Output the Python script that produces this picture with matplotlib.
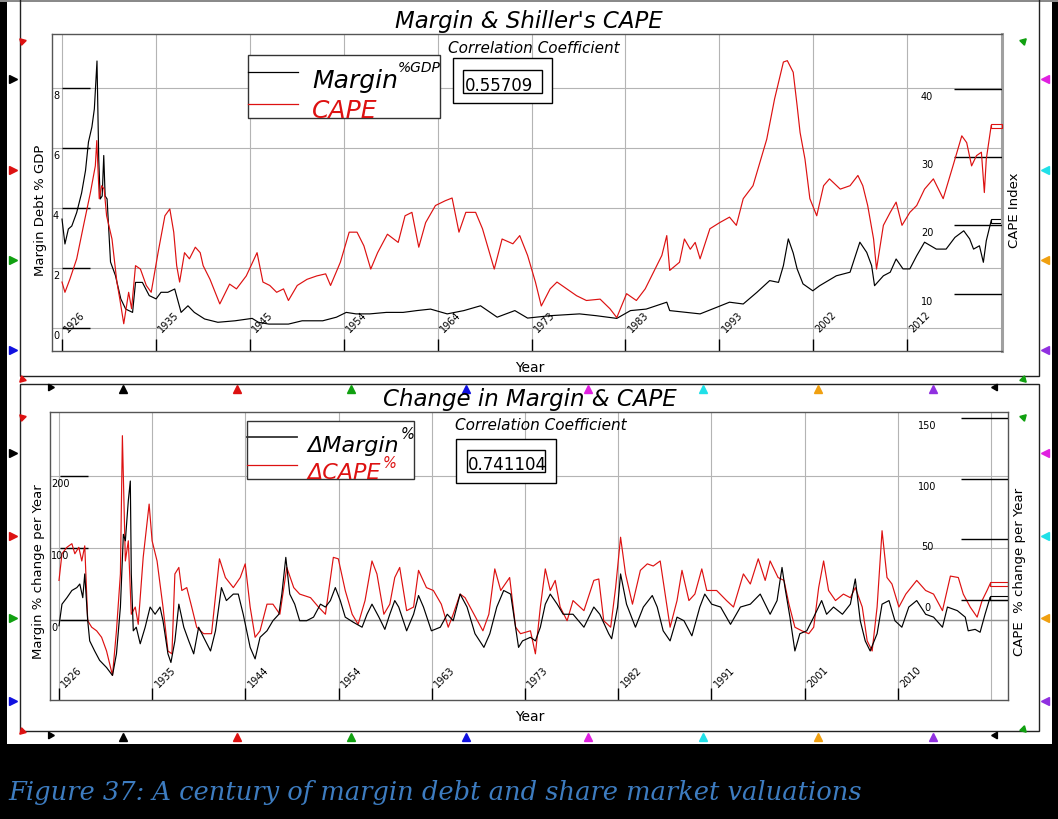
import numpy as np
import matplotlib
matplotlib.use("Agg")
import matplotlib.pyplot as plt
from matplotlib.patches import Rectangle
from matplotlib import transforms as mtrans

W, H = 1058, 820
plt.rcParams['font.family'] = ['DejaVu Sans']

# ---- values ----
# top panel: margin debt as % of GDP (left scale), Shiller CAPE (right scale)
margin_year = [1926.0, 1926.3, 1926.65, 1927.0, 1927.5, 1928.0, 1928.4, 1928.7, 1929.05, 1929.3,
               1929.57, 1929.75, 1929.9, 1930.1, 1930.26, 1930.4, 1930.6, 1930.95, 1931.45, 1932.0,
               1932.5, 1933.2, 1933.5, 1934.2, 1934.9, 1935.6, 1936.1, 1936.8, 1937.5, 1938.15,
               1938.85, 1939.5, 1940.55, 1941.9, 1943.65, 1945.4, 1946.05, 1947.1, 1949.1, 1950.5,
               1952.6, 1954.0, 1955.0, 1956.0, 1957.4, 1959.1, 1960.8, 1962.2, 1963.6, 1965.3,
               1967.0, 1968.7, 1970.4, 1972.2, 1973.5, 1975.8, 1978.8, 1980.5, 1982.6, 1984.0,
               1985.6, 1987.7, 1988.0, 1989.7, 1991.1, 1992.8, 1994.1, 1995.5, 1996.9, 1998.2,
               1999.1, 1999.6, 2000.1, 2000.6, 2001.0, 2001.6, 2002.6, 2003.3, 2005.0, 2006.4,
               2007.4, 2008.1, 2008.6, 2008.9, 2009.8, 2010.5, 2011.1, 2011.8, 2012.5, 2013.2,
               2014.0, 2015.2, 2016.2, 2017.1, 2018.0, 2018.6, 2019.0, 2019.6, 2020.0, 2020.3,
               2020.8]
margin_gdp = [3.63, 2.8, 3.3, 3.4, 3.85, 4.5, 5.25, 6.2, 6.7, 7.3,
              8.9, 5.6, 4.3, 4.4, 5.75, 4.4, 4.3, 2.2, 1.75, 0.97,
              0.63, 0.52, 1.52, 1.52, 1.08, 0.97, 1.19, 1.19, 1.3, 0.52,
              0.74, 0.52, 0.3, 0.19, 0.24, 0.32, 0.19, 0.13, 0.13, 0.24,
              0.24, 0.36, 0.52, 0.47, 0.47, 0.52, 0.52, 0.58, 0.63, 0.47,
              0.58, 0.74, 0.36, 0.58, 0.33, 0.41, 0.47, 0.41, 0.32, 0.58,
              0.63, 0.86, 0.58, 0.52, 0.47, 0.69, 0.86, 0.8, 1.19, 1.58,
              1.52, 2.08, 2.97, 2.5, 1.97, 1.47, 1.24, 1.41, 1.74, 1.86,
              2.86, 2.52, 2.08, 1.41, 1.74, 1.86, 2.3, 1.97, 1.97, 2.41,
              2.86, 2.63, 2.63, 3.02, 3.24, 2.97, 2.63, 2.74, 2.19, 2.91,
              3.58]
cape_year = [1926.0, 1926.3, 1926.8, 1927.5, 1928.2, 1928.9, 1929.4, 1929.55, 1929.8, 1930.05,
             1930.3, 1930.55, 1931.1, 1931.6, 1931.9, 1932.3, 1932.8, 1933.1, 1933.5, 1934.0,
             1934.6, 1935.1, 1935.8, 1936.5, 1937.0, 1937.4, 1937.7, 1938.0, 1938.5, 1939.0,
             1939.6, 1940.1, 1940.4, 1941.1, 1942.1, 1943.1, 1943.8, 1944.8, 1945.9, 1946.5,
             1947.2, 1947.9, 1948.6, 1949.1, 1950.0, 1951.0, 1952.0, 1952.9, 1953.4, 1954.4,
             1955.3, 1956.1, 1956.8, 1957.5, 1958.2, 1959.2, 1960.3, 1961.0, 1961.7, 1962.4,
             1963.1, 1964.1, 1965.1, 1965.8, 1966.5, 1967.2, 1968.2, 1968.9, 1970.1, 1970.9,
             1972.0, 1972.7, 1973.5, 1974.3, 1974.9, 1975.8, 1976.5, 1977.5, 1978.5, 1979.5,
             1980.9, 1981.9, 1982.6, 1983.6, 1984.6, 1985.5, 1986.5, 1987.2, 1987.7, 1988.0,
             1989.0, 1989.5, 1990.1, 1990.6, 1991.1, 1992.1, 1993.1, 1994.1, 1994.8, 1995.5,
             1996.5, 1997.2, 1997.9, 1998.7, 1999.6, 2000.0, 2000.6, 2001.0, 2001.3, 2001.8,
             2002.3, 2003.0, 2003.7, 2004.3, 2005.4, 2006.4, 2007.2, 2007.7, 2008.2, 2008.8,
             2009.1, 2009.8, 2010.5, 2011.1, 2011.7, 2012.5, 2013.2, 2014.0, 2014.9, 2015.9,
             2016.9, 2017.8, 2018.3, 2018.8, 2019.3, 2019.8, 2020.1, 2020.3, 2020.8]
cape = [11.7, 10.2, 12.1, 15.1, 20.0, 24.8, 28.7, 32.4, 23.9, 25.8,
        25.3, 21.4, 18.0, 11.7, 9.2, 5.6, 10.2, 7.8, 14.1, 13.6,
        11.2, 10.2, 16.0, 21.4, 22.4, 19.0, 14.1, 11.7, 16.0, 15.1,
        16.8, 16.0, 14.1, 12.1, 8.5, 11.4, 10.7, 12.6, 16.0, 11.7,
        11.2, 10.2, 10.7, 9.0, 11.2, 12.1, 12.6, 12.9, 11.2, 14.6,
        19.0, 19.0, 17.0, 13.6, 16.0, 18.7, 17.5, 21.4, 21.9, 16.8,
        20.4, 22.9, 23.6, 24.0, 19.0, 21.9, 21.9, 19.5, 13.6, 18.0,
        17.3, 18.5, 15.6, 11.7, 8.2, 10.7, 11.7, 10.7, 9.7, 9.0,
        9.2, 7.8, 6.5, 10.0, 9.0, 10.7, 13.6, 15.6, 18.5, 13.4,
        14.6, 18.0, 16.5, 17.5, 15.1, 19.5, 20.4, 21.2, 20.0, 23.9,
        25.8, 29.2, 32.6, 38.5, 43.9, 44.1, 42.4, 37.5, 33.6, 29.7,
        23.9, 21.4, 25.8, 26.8, 25.3, 25.8, 27.3, 25.8, 22.9, 18.0,
        13.6, 20.0, 21.9, 23.4, 20.0, 21.9, 22.9, 25.3, 26.8, 23.9,
        28.7, 33.1, 32.1, 28.7, 30.2, 30.7, 24.8, 29.7, 34.6]

# bottom panel: % change per year
dmargin_year = [1926.0, 1926.3, 1926.8, 1927.3, 1927.8, 1928.1, 1928.4, 1928.6, 1928.9, 1929.1,
                1929.6, 1930.1, 1930.8, 1931.4, 1931.8, 1932.2, 1932.5, 1932.7, 1933.0, 1933.2,
                1933.3, 1933.5, 1933.8, 1934.2, 1934.7, 1935.2, 1935.7, 1936.2, 1936.5, 1937.0,
                1937.3, 1937.7, 1938.1, 1938.6, 1939.1, 1939.6, 1940.1, 1940.6, 1941.3, 1941.8,
                1942.4, 1942.9, 1943.6, 1944.1, 1944.6, 1945.3, 1945.8, 1946.3, 1947.0, 1947.6,
                1948.2, 1948.5, 1948.9, 1949.3, 1949.8, 1950.3, 1951.0, 1951.7, 1952.4, 1952.9,
                1953.4, 1953.9, 1954.4, 1954.9, 1955.7, 1956.6, 1957.1, 1957.6, 1958.3, 1958.9,
                1959.4, 1959.9, 1960.3, 1961.1, 1961.8, 1962.3, 1962.8, 1963.6, 1964.5, 1965.2,
                1965.8, 1966.5, 1967.2, 1968.0, 1968.9, 1969.5, 1970.2, 1970.9, 1971.6, 1972.4,
                1972.8, 1973.6, 1974.1, 1974.6, 1975.1, 1975.6, 1976.3, 1976.9, 1977.9, 1979.0,
                1980.0, 1980.6, 1981.5, 1981.8, 1982.4, 1982.7, 1983.3, 1984.2, 1985.0, 1985.9,
                1986.4, 1987.0, 1987.7, 1988.4, 1989.1, 1989.9, 1990.7, 1991.2, 1991.9, 1992.8,
                1993.8, 1994.8, 1995.8, 1996.8, 1997.8, 1998.5, 1999.0, 1999.3, 1999.8, 2000.3,
                2000.8, 2001.5, 2002.2, 2003.0, 2003.5, 2004.2, 2005.1, 2005.9, 2006.4, 2006.9,
                2007.4, 2007.9, 2008.6, 2009.1, 2009.8, 2010.4, 2011.1, 2011.8, 2012.6, 2013.5,
                2014.3, 2015.2, 2015.7, 2016.7, 2017.5, 2017.8, 2018.5, 2019.0, 2019.5, 2020.0]
dmargin = [-8, 22, 31, 41, 45, 50, 31, 64, -1, -29,
           -43, -56, -66, -77, -47, 18, 119, 110, 166, 193,
           64, -15, -10, -33, -10, 18, 8, 18, -1, -47,
           -59, -29, 22, -10, -29, -47, -10, -24, -43, -15,
           45, 27, 36, 36, 8, -38, -54, -24, -15, -1,
           8, 36, 87, 36, 22, -1, -1, 4, 22, 18,
           27, 45, 27, 4, -3, -10, 8, 22, 4, -13,
           8, 27, 18, -15, 8, 34, 18, -15, -10, 8,
           -1, 36, 18, -19, -38, -19, 18, 41, 36, -38,
           -29, -24, -29, -10, 22, 36, 22, 8, 8, -10,
           18, 8, -19, -26, 18, 64, 22, -10, 18, 34,
           18, -15, -29, 4, -1, -22, 18, 36, 22, 18,
           -6, 18, 22, 36, 8, 27, 73, 45, 4, -43,
           -19, -15, 4, 27, 8, 18, 8, 22, 57, -1,
           -29, -43, -19, 22, 27, -1, -10, 18, 27, 8,
           4, -10, 18, 13, 4, -15, -13, -17, 8, 31]
dcape_year = [1926.0, 1926.3, 1926.8, 1927.3, 1927.6, 1928.0, 1928.3, 1928.6, 1928.9, 1929.3,
              1929.8, 1930.3, 1930.8, 1931.4, 1931.8, 1932.2, 1932.4, 1932.7, 1933.0, 1933.3,
              1933.7, 1934.0, 1934.5, 1935.1, 1935.4, 1935.9, 1936.5, 1937.0, 1937.4, 1937.7,
              1938.1, 1938.4, 1938.9, 1939.4, 1939.9, 1940.6, 1941.4, 1942.2, 1942.8, 1943.6,
              1944.3, 1944.8, 1945.3, 1945.8, 1946.3, 1947.0, 1947.6, 1948.3, 1949.0, 1949.7,
              1950.3, 1951.4, 1952.2, 1952.9, 1953.7, 1954.2, 1954.9, 1955.6, 1956.2, 1956.9,
              1957.6, 1958.1, 1958.8, 1959.4, 1959.9, 1960.4, 1961.1, 1961.8, 1962.3, 1963.1,
              1963.8, 1964.6, 1965.3, 1965.8, 1966.5, 1967.0, 1967.9, 1968.8, 1969.4, 1970.0,
              1970.6, 1971.5, 1972.1, 1972.6, 1973.6, 1974.1, 1974.6, 1975.1, 1975.6, 1976.1,
              1976.6, 1977.3, 1977.9, 1979.0, 1980.0, 1980.5, 1981.0, 1981.7, 1982.2, 1982.7,
              1983.2, 1983.9, 1984.7, 1985.4, 1986.0, 1986.7, 1987.2, 1987.7, 1988.4, 1988.9,
              1989.6, 1990.2, 1990.9, 1991.4, 1992.4, 1993.4, 1994.1, 1995.1, 1995.8, 1996.6,
              1997.3, 1997.8, 1998.6, 1999.2, 1999.7, 2000.3, 2001.0, 2001.7, 2002.2, 2002.7,
              2003.2, 2003.7, 2004.4, 2005.2, 2005.9, 2006.4, 2007.1, 2007.6, 2008.1, 2008.6,
              2009.1, 2009.6, 2010.1, 2010.8, 2011.5, 2012.6, 2013.5, 2014.3, 2015.2, 2016.0,
              2016.8, 2017.3, 2018.0, 2018.7, 2019.2, 2019.7, 2020.0]
dcape = [55, 92, 101, 106, 92, 101, 82, 103, -1, -10,
         -15, -24, -43, -77, -15, 64, 256, 82, 110, 8,
         18, -6, 87, 161, 110, 82, 18, -43, -47, 64,
         73, 41, 45, 18, -10, -19, -19, 85, 59, 45,
         59, 78, 18, -24, -15, 22, 22, 8, 73, 45,
         36, 31, 18, 8, 87, 85, 41, 8, -6, 27,
         82, 64, 8, 22, 59, 73, 13, 18, 69, 45,
         41, 22, -10, 8, 36, 31, 8, -15, 8, 71,
         41, 59, -10, -19, -15, -47, 18, 71, 41, 55,
         18, -1, 27, 13, 55, 57, -1, -10, 45, 115,
         64, 22, 69, 78, 75, 82, 36, -10, 27, 69,
         27, 36, 71, 41, 41, 27, 18, 64, 50, 85,
         55, 82, 59, 55, 22, -10, -15, -19, -10, 45,
         82, 41, 27, 36, 31, 45, 18, -29, -43, 18,
         124, 59, 50, 18, 36, 55, 41, 36, 13, 61,
         59, 36, 18, 4, 27, 41, 50]

top_year_labels = ["1926", "1935", "1945", "1954", "1964", "1973", "1983", "1993", "2002", "2012"]
bot_year_labels = ["1926", "1935", "1944", "1954", "1963", "1973", "1982", "1991", "2001", "2010"]
top_left_ticks = [0, 2, 4, 6, 8]
top_right_ticks = [10, 20, 30, 40]
bot_left_ticks = [0, 100, 200]
bot_right_ticks = [0, 50, 100, 150]
corr_top = "0.55709"
corr_bot = "0.741104"

RED = "#dd1111"
GRID = "#b4b4b4"
PT = 0.72  # points per pixel at dpi 100

fig = plt.figure(figsize=(W / 100, H / 100), dpi=100, facecolor="black")


def px_axes(x0, y0, x1, y1, z):
    return fig.add_axes([x0 / W, 1 - y1 / H, (x1 - x0) / W, (y1 - y0) / H], zorder=z)


def px_canvas(z):
    a = px_axes(0, 0, W, H, z)
    a.set_xlim(0, W)
    a.set_ylim(H, 0)
    a.axis("off")
    return a


# white sheet + panel frames
bg = px_canvas(0)
bg.add_patch(Rectangle((7, 3), 1045, 742, fc="white", ec="none"))
bg.add_patch(Rectangle((0, 0), W, 3, fc="#8a8a8a", ec="none"))
bg.add_patch(Rectangle((20, -2), 1019, 379, fill=False, ec="#222222", lw=1))
bg.add_patch(Rectangle((20, 385), 1019, 347, fill=False, ec="#222222", lw=1))


def dress(ax, axr, xticks, xlabels, lticks, rticks, w, h, xlab_up, rseg, rlab):
    for s in ax.spines.values():
        s.set_color("#555555")
        s.set_linewidth(1)
    for s in axr.spines.values():
        s.set_visible(False)
    ax.set_xticks([])
    ax.set_yticks([])
    axr.set_yticks([])
    for x in xticks:
        ax.axvline(x, color=GRID, lw=0.8, zorder=0)
    for v in lticks:
        ax.axhline(v, color=GRID, lw=0.8, zorder=0)
    tx = mtrans.blended_transform_factory(ax.transData, ax.transAxes)
    ax.vlines(xticks[:len(xlabels)], 0, 12 / h, transform=tx, color="black", lw=1)
    for x, lab in zip(xticks, xlabels):
        ax.annotate(lab, (x, xlab_up / h), xycoords=tx, xytext=(13 * PT, 0),
                    textcoords="offset points", rotation=45, ha="center", va="center", fontsize=7)
    tl = mtrans.blended_transform_factory(ax.transAxes, ax.transData)
    ax.hlines(lticks, 10 / w, 38 / w, transform=tl, color="black", lw=1)
    for v in lticks:
        ax.annotate(str(v), (1 / w, v), xycoords=tl, xytext=(0, -7 * PT),
                    textcoords="offset points", ha="left", va="center", fontsize=7)
    tr = mtrans.blended_transform_factory(axr.transAxes, axr.transData)
    axr.hlines(rticks, rseg / w, 1, transform=tr, color="black", lw=1)
    for v in rticks:
        axr.annotate(str(v), (rlab / w, v), xycoords=tr, xytext=(0, -7 * PT),
                     textcoords="offset points", ha="center", va="center", fontsize=7)


def end_mark(a, xs, ys, color, hpx):
    lo, hi = a.get_ylim()
    ypp = (hi - lo) / hpx
    x1 = a.get_xlim()[1]
    a.add_patch(Rectangle((xs[-1], ys[-1] - 2 * ypp), x1 - xs[-1], 4 * ypp,
                          fill=False, ec=color, lw=0.8, clip_on=False))


# ---- top panel ----
dt_top = 9.58 / 93.9
top_ticks = 1926 + np.arange(10) * 9.58
ax = px_axes(52, 35, 1002, 352, 2)
ax.patch.set_visible(False)
ax.set_xlim(1926 - 10 * dt_top, 1926 + 940 * dt_top)
ax.set_ylim(-0.767, 9.8)
axr = ax.twinx()
axr.set_zorder(3)
axr.set_ylim(1.61, 48.0)
dress(ax, axr, top_ticks, top_year_labels, top_left_ticks, top_right_ticks,
      950, 317, 30, 902, 875)
ax.spines["right"].set_color("#a0a0a0")
ax.spines["right"].set_linewidth(2.2)
ax.plot(margin_year, margin_gdp, color="black", lw=0.85)
axr.plot(cape_year, cape, color=RED, lw=0.85)
end_mark(ax, margin_year, margin_gdp, "black", 317)
end_mark(axr, cape_year, cape, RED, 317)

# ---- bottom panel ----
dt_bot = 9.41 / 93.2
bot_ticks = 1926 + np.arange(11) * 9.41
bx = px_axes(50, 413, 1008, 701, 2)
bx.patch.set_visible(False)
bx.set_xlim(1926 - 9 * dt_bot, 1926 + 949 * dt_bot)
bx.set_ylim(-111.1, 288.9)
bxr = bx.twinx()
bxr.set_zorder(3)
bxr.set_ylim(-82.4, 155.0)
dress(bx, bxr, bot_ticks, bot_year_labels, bot_left_ticks, bot_right_ticks,
      958, 288, 24, 911, 877)
bx.axhline(0, color="#909090", lw=1.0, zorder=0)
bx.plot(dmargin_year, dmargin, color="black", lw=0.85, zorder=3)
bx.plot(dcape_year, dcape, color=RED, lw=0.85, zorder=2)
end_mark(bx, dmargin_year, dmargin, "black", 288)
end_mark(bx, dcape_year, dcape, RED, 288)

# ---- overlay: titles, legends, boxes, labels ----
ov = px_canvas(10)
it = dict(style="italic")
ov.text(529, 28, "Margin & Shiller's CAPE", ha="center", va="baseline", fontsize=16.5, **it)
ov.text(530, 406, "Change in Margin & CAPE", ha="center", va="baseline", fontsize=16.5, **it)

ov.add_patch(Rectangle((248, 56), 192, 63, fc="white", ec="#333333", lw=1))
ov.plot([248, 298], [73, 73], color="black", lw=0.9)
ov.plot([248, 298], [105, 105], color=RED, lw=0.9)
ov.text(312, 88, "Margin", fontsize=18, va="baseline", **it)
ov.text(398, 72, "%GDP", fontsize=10, va="baseline", **it)
ov.text(312, 118, "CAPE", fontsize=18, va="baseline", color=RED, **it)

ov.add_patch(Rectangle((247, 422), 167, 58, fc="white", ec="#333333", lw=1))
ov.plot([247, 297], [438, 438], color="#333333", lw=1.3)
ov.plot([247, 297], [466, 466], color=RED, lw=0.9)
ov.text(307, 452, "\u0394Margin", fontsize=16, va="baseline", **it)
ov.text(401, 439, "%", fontsize=10.5, va="baseline", **it)
ov.text(307, 479, "\u0394CAPE", fontsize=16, va="baseline", color=RED, **it)
ov.text(383, 468, "%", fontsize=10.5, va="baseline", color=RED, **it)

ov.text(448, 53, "Correlation Coefficient", fontsize=11, va="baseline", **it)
ov.add_patch(Rectangle((453, 59), 99, 45, fc="white", ec="black", lw=1))
ov.add_patch(Rectangle((463, 71), 79, 23, fill=False, ec="black", lw=1))
ov.text(465, 91, corr_top, fontsize=12, va="baseline")

ov.text(455, 430, "Correlation Coefficient", fontsize=11, va="baseline", **it)
ov.add_patch(Rectangle((456, 440), 100, 44, fc="white", ec="black", lw=1))
inner = Rectangle((467, 451), 78, 22, fill=False, ec="black", lw=1)
ov.add_patch(inner)
t = ov.text(468, 470, corr_bot, fontsize=12, va="baseline")
t.set_clip_path(inner)

ov.text(530, 368, "Year", ha="center", va="center", fontsize=10)
ov.text(530, 717, "Year", ha="center", va="center", fontsize=10)
ov.text(41, 210, "Margin Debt % GDP", rotation=90, ha="center", va="center", fontsize=9.5)
ov.text(1014, 210, "CAPE Index", rotation=90, ha="center", va="center", fontsize=9.5)
ov.text(39, 572, "Margin % change per Year", rotation=90, ha="center", va="center", fontsize=9.5)
ov.text(1020, 572, "CAPE  % change per Year", rotation=90, ha="center", va="center", fontsize=9.5)

# selection handles around the two graphics
GREEN, BLUE, MAG, CYAN, ORANGE, PURPLE = "#10a010", "#1010e0", "#e020e0", "#20e0e8", "#f0a010", "#9030e0"
side_cols = ["black", RED, GREEN, BLUE]
right_cols = [MAG, CYAN, ORANGE, PURPLE]
for ys in ([80, 171, 261, 351], [454, 537, 619, 702]):
    for y, c in zip(ys, side_cols):
        ov.plot(13, y, marker=">", color=c, ms=5.5, clip_on=False)
    for y, c in zip(ys, right_cols):
        ov.plot(1045, y, marker="<", color=c, ms=5.5, clip_on=False)
row_x = [123, 237, 351, 466, 588, 703, 818, 933]
row_cols = ["black", RED, GREEN, BLUE, MAG, CYAN, ORANGE, PURPLE]
for y in (390, 738):
    for x, c in zip(row_x, row_cols):
        ov.plot(x, y, marker="^", color=c, ms=5.5, clip_on=False)
    ov.plot(50, y - 2, marker=(3, 0, 30), color="black", ms=5.5)
    ov.plot(995, y - 2, marker=(3, 0, -150), color="black", ms=5.5)
for y, ang in ((42, 45), (380, 135), (418, 45), (732, 135)):
    ov.plot(22, y, marker=(3, 0, ang), color=RED, ms=5.5)
for y, ang in ((42, -45), (380, -135), (418, -45), (730, -135)):
    ov.plot(1023, y, marker=(3, 0, ang), color=GREEN, ms=5.5)

ov.text(8, 800, "Figure 37: A century of margin debt and share market valuations",
        family="DejaVu Serif", style="italic", color="#3d7cc0", fontsize=18.5, va="baseline")

fig.savefig("out.png", dpi=100, facecolor="black")
